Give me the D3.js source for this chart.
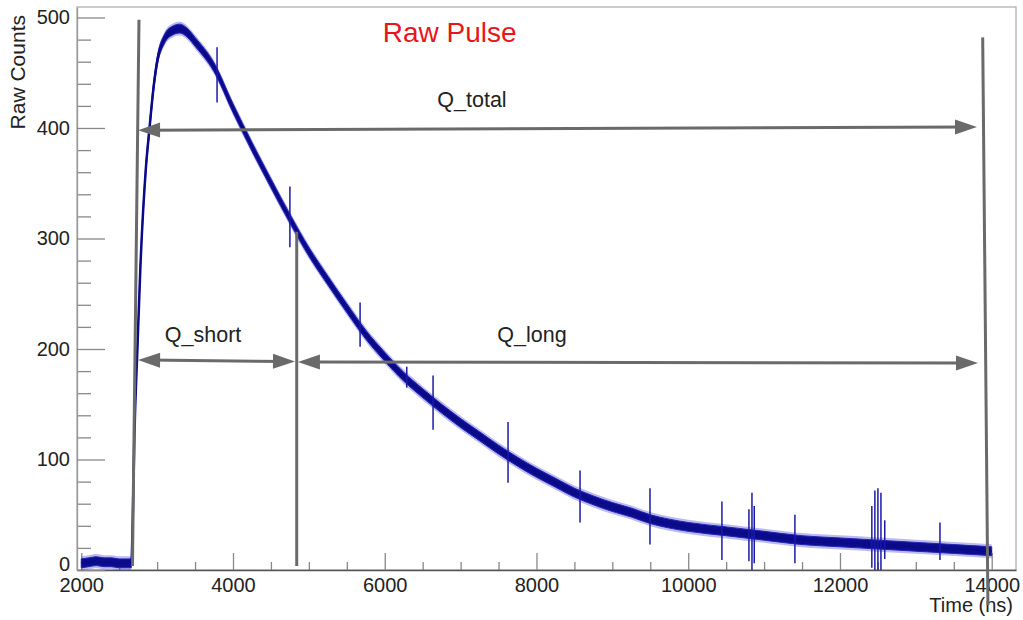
<!DOCTYPE html>
<html>
<head>
<meta charset="utf-8">
<script src="https://cdn.jsdelivr.net/npm/d3@7"></script>
<style>
  body { margin: 0; background: #fff; }
  text { font-family: "Liberation Sans", Arial, sans-serif; }
</style>
</head>
<body>
<svg id="chart" width="1023" height="620"></svg>
<script>
// pulse (time in ns, raw counts at the middle of the noise band)
const pulseTime = [2000, 2100, 2200, 2300, 2400, 2500, 2600, 2660, 2680, 2700, 2740, 2780,
  2850, 2900, 2950, 3000, 3100, 3200, 3300, 3400, 3500, 3750, 4000, 4250, 4500, 4750,
  5000, 5250, 5500, 5750, 6000, 6250, 6500, 6750, 7000, 7250, 7500, 7750, 8000, 8250,
  8500, 8750, 9000, 9250, 9500, 9750, 10000, 10500, 11000, 11500, 12000, 12500, 13000,
  13500, 14000];
const pulseCounts = [6, 7, 8, 7, 7, 6, 6, 6, 50, 120, 200, 275,
  362, 400, 435, 460, 481, 488, 490, 486, 478, 455, 418, 383, 350, 318,
  288, 262, 237, 213, 193, 175, 160, 146, 133, 121, 109, 98, 88, 79,
  70, 63, 57, 52, 46, 42, 39, 35, 31, 27, 25, 23, 21,
  19, 17];
const noiseHalf = 4;

// noise spikes / ringing bursts
const spikeTime = [3790, 4750, 5675, 6290, 6637, 7625, 8574, 9496, 10444, 10800, 10840, 10870,
  11406, 12420, 12460, 12500, 12540, 12590, 13318];
const spikeLow = [423, 292, 202, 165, 127, 79, 43, 23, 9, 8, 0, 6, 6, 2, 0, 0, 0, 10, 9];
const spikeHigh = [473, 347, 242, 184, 176, 134, 90, 74, 62, 55, 70, 58, 50, 58, 72, 74, 70, 45, 43];

const xMajor = [2000, 4000, 6000, 8000, 10000, 12000, 14000];
const yMajor = [0, 100, 200, 300, 400, 500];

// integration window markers [t1, c1, t2, c2]
const markers = [
  [2761, 498, 2675, 3.6],
  [4840, 306, 4840, 3.6],
  [13881, 482, 13950, -32]
];
// arrows [t1, c1, t2, c2]
const arrows = [
  [2749, 398, 13806, 401],
  [2749, 190, 4817, 188.7],
  [4856, 188.2, 13819, 187.3]
];
const noteText = ["Q_total", "Q_short", "Q_long"];
const noteT = [7150, 3605, 7941];
const noteC = [419, 206, 206];

const svg = d3.select("#chart");
const plotL = 77, plotR = 1016, plotT = 7, plotB = 570;

const x = d3.scaleLinear().domain([1944, 14320]).range([plotL, plotR]);
const y = d3.scaleLinear().domain([0, 509.5]).range([plotB, plotT]);

// frame
svg.append("rect")
  .attr("x", plotL).attr("y", plotT)
  .attr("width", plotR - plotL).attr("height", plotB - plotT)
  .attr("fill", "none").attr("stroke", "#aaa").attr("stroke-width", 1.2);

// x axis
const xMinor = d3.range(2000, 14001, 500).filter(v => v % 2000 != 0);
svg.append("g")
  .attr("transform", `translate(0,${plotB})`)
  .call(d3.axisBottom(x).tickValues(xMinor).tickSizeInner(-8).tickSizeOuter(0).tickFormat(""))
  .call(g => g.select(".domain").remove())
  .selectAll("line").attr("stroke", "#888").attr("stroke-width", 1.3);

svg.append("g")
  .attr("transform", `translate(0,${plotB})`)
  .call(d3.axisBottom(x).tickValues(xMajor).tickSizeInner(-17).tickSizeOuter(0).tickPadding(8).tickFormat(d3.format("d")))
  .call(g => g.select(".domain").attr("stroke", "#555").attr("stroke-width", 1.3))
  .call(g => g.selectAll("line").attr("stroke", "#888").attr("stroke-width", 1.3))
  .call(g => g.selectAll("text").attr("font-size", 20).attr("fill", "#222")
    .attr("font-family", "Liberation Sans, Arial, sans-serif"));

// y axis
const yMinor = d3.range(0, 501, 20).filter(v => v % 100 != 0);
svg.append("g")
  .attr("transform", `translate(${plotL},0)`)
  .call(d3.axisLeft(y).tickValues(yMinor).tickSizeInner(-14).tickSizeOuter(0).tickFormat(""))
  .call(g => g.select(".domain").remove())
  .selectAll("line").attr("stroke", "#888").attr("stroke-width", 1.3);

svg.append("g")
  .attr("transform", `translate(${plotL},0)`)
  .call(d3.axisLeft(y).tickValues(yMajor).tickSizeInner(-28).tickSizeOuter(0).tickPadding(7))
  .call(g => g.select(".domain").attr("stroke", "#999").attr("stroke-width", 1.3))
  .call(g => g.selectAll("line").attr("stroke", "#888").attr("stroke-width", 1.3))
  .call(g => g.selectAll("text").attr("font-size", 20).attr("fill", "#222")
    .attr("font-family", "Liberation Sans, Arial, sans-serif"))
  .call(g => g.selectAll(".tick").filter(d => d == 0).select("text").attr("y", -6));

// axis titles
svg.append("text")
  .attr("transform", `translate(25,15) rotate(-90)`)
  .attr("text-anchor", "end")
  .attr("font-size", 21).attr("fill", "#222")
  .text("Raw Counts");

svg.append("text")
  .attr("x", 1013).attr("y", 612)
  .attr("text-anchor", "end")
  .attr("font-size", 20).attr("fill", "#222")
  .text("Time (ns)");

// pulse band
const pts = pulseTime.map((t, i) => [t, pulseCounts[i]]);
const band = h => d3.area()
  .curve(d3.curveMonotoneX)
  .x(d => x(d[0]))
  .y0(d => y(d[1] - h))
  .y1(d => y(d[1] + h));

svg.append("path")
  .datum(pts)
  .attr("d", band(noiseHalf * 1.6))
  .attr("fill", "#3b3bd0")
  .attr("opacity", 0.35);

svg.append("path")
  .datum(pts)
  .attr("d", band(noiseHalf))
  .attr("fill", "#0c0c8e")
  .attr("stroke", "#2323b8")
  .attr("stroke-width", 1);

svg.append("path")
  .datum(pts)
  .attr("d", d3.line().curve(d3.curveMonotoneX).x(d => x(d[0])).y(d => y(d[1])))
  .attr("fill", "none")
  .attr("stroke", "#0a0a88")
  .attr("stroke-width", 2.5);

svg.append("g")
  .selectAll("line")
  .data(spikeTime)
  .join("line")
  .attr("x1", d => x(d)).attr("x2", d => x(d))
  .attr("y1", (d, i) => y(spikeLow[i]))
  .attr("y2", (d, i) => y(spikeHigh[i]))
  .attr("stroke", "#1a1aa8")
  .attr("stroke-width", 1.5);

// markers
const grey = "#6a6a6a";
svg.append("g")
  .selectAll("line")
  .data(markers)
  .join("line")
  .attr("x1", d => x(d[0])).attr("y1", d => y(d[1]))
  .attr("x2", d => x(d[2])).attr("y2", d => y(d[3]))
  .attr("stroke", grey).attr("stroke-width", 3);

// double arrows
function head(px, py, qx, qy) {
  const dx = px - qx, dy = py - qy, len = Math.hypot(dx, dy);
  const ux = dx / len, uy = dy / len, L = 22, W = 7.5;
  const bx = px - ux * L, by = py - uy * L;
  return `M${px},${py}L${bx - uy * W},${by + ux * W}L${bx + uy * W},${by - ux * W}Z`;
}
const ag = svg.append("g");
arrows.forEach(a => {
  const x1 = x(a[0]), y1 = y(a[1]), x2 = x(a[2]), y2 = y(a[3]);
  ag.append("line")
    .attr("x1", x1 + 10).attr("y1", y1).attr("x2", x2 - 10).attr("y2", y2)
    .attr("stroke", grey).attr("stroke-width", 3);
  ag.append("path").attr("d", head(x1, y1, x2, y2)).attr("fill", grey);
  ag.append("path").attr("d", head(x2, y2, x1, y1)).attr("fill", grey);
});

// labels
svg.append("g")
  .selectAll("text")
  .data(noteText)
  .join("text")
  .attr("x", (d, i) => x(noteT[i]))
  .attr("y", (d, i) => y(noteC[i]))
  .attr("text-anchor", "middle")
  .attr("font-size", 21.5)
  .attr("fill", "#222")
  .text(d => d);

svg.append("text")
  .attr("x", x(6857)).attr("y", y(477.8))
  .attr("text-anchor", "middle")
  .attr("font-size", 28)
  .attr("fill", "#e8161b")
  .text("Raw Pulse");
</script>
</body>
</html>
